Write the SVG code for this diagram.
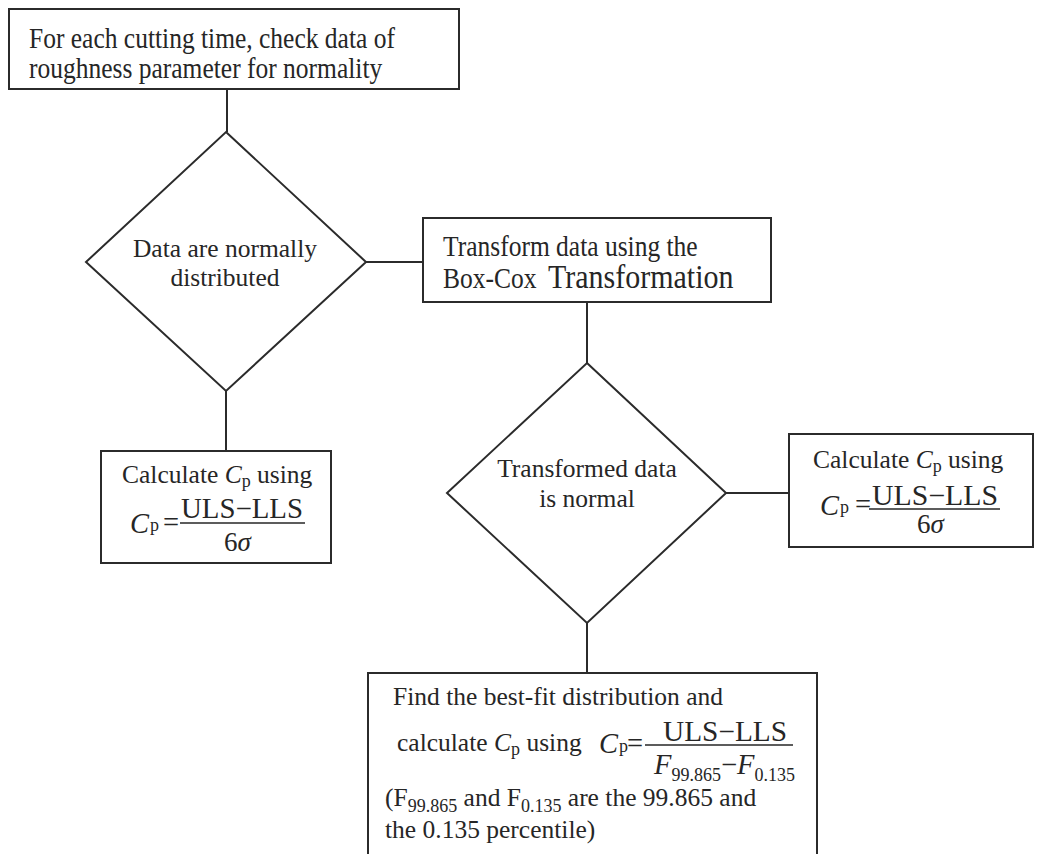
<svg xmlns="http://www.w3.org/2000/svg" width="1039" height="854" viewBox="0 0 1039 854">
<style>
.box{fill:#fff;stroke:#2b2b2b;stroke-width:2}
.dia{fill:#fff;stroke:#2b2b2b;stroke-width:2}
.con{stroke:#2b2b2b;stroke-width:2;fill:none}
.bar{stroke:#262626;stroke-width:1.6}
text{font-family:"Liberation Serif","Times New Roman",serif;fill:#262626}
.t{font-size:25.5px}
.f{font-size:28.5px}
.d{font-size:27px}
.i{font-style:italic}
.s{font-size:18px}
.m{text-anchor:middle}
</style>
<rect width="1039" height="854" fill="#fff"/>
<g id="connectors">
<line class="con" x1="227" y1="89" x2="227" y2="132"/>
<line class="con" x1="366" y1="262" x2="423" y2="262"/>
<line class="con" x1="226" y1="390" x2="226" y2="451"/>
<line class="con" x1="587" y1="302" x2="587" y2="363"/>
<line class="con" x1="726" y1="493" x2="789" y2="493"/>
<line class="con" x1="587" y1="623" x2="587" y2="673"/>
</g>
<g id="start">
<rect class="box" x="9" y="9" width="450" height="80" stroke-width="2.5"/>
<text class="t" transform="translate(29,48) scale(1,1.15)">For each cutting time, check data of</text>
<text class="t" transform="translate(29,78) scale(1,1.15)">roughness parameter for normality</text>
</g>
<g id="decision1">
<polygon class="dia" points="226,132 366,262 226,391 86,262"/>
<text class="t m" x="225" y="257">Data are normally</text>
<text class="t m" x="225" y="286">distributed</text>
</g>
<g id="transform">
<rect class="box" x="423" y="218" width="348" height="84"/>
<text class="t" transform="translate(443,256) scale(1,1.16)">Transform data using the</text>
<text class="t" transform="translate(443,288) scale(1,1.12)">Box-Cox <tspan x="105" font-size="30">Transformation</tspan></text>
</g>
<g id="calc-normal">
<rect class="box" x="101" y="451" width="230" height="112"/>
<text class="t" x="122" y="483">Calculate <tspan class="i">C</tspan><tspan class="s" dy="4">p</tspan><tspan dy="-4"> using</tspan></text>
<text class="f i" x="130" y="533">C</text>
<text class="s" x="150" y="531">p</text>
<text class="f" x="163" y="532">=</text>
<text class="f" x="181" y="518" textLength="122" lengthAdjust="spacingAndGlyphs">ULS−LLS</text>
<line class="bar" x1="180" y1="523" x2="305" y2="523"/>
<text class="d" x="224" y="551">6<tspan class="i">σ</tspan></text>
</g>
<g id="decision2">
<polygon class="dia" points="587,363 726,493 587,623 447,493"/>
<text class="t m" x="587" y="477">Transformed data</text>
<text class="t m" x="587" y="507">is normal</text>
</g>
<g id="calc-transformed">
<rect class="box" x="789" y="434" width="244" height="113"/>
<text class="t" x="813" y="468">Calculate <tspan class="i">C</tspan><tspan class="s" dy="4">p</tspan><tspan dy="-4"> using</tspan></text>
<text class="f i" x="820" y="515">C</text>
<text class="s" x="840" y="513">p</text>
<text class="f" x="855" y="514">=</text>
<text class="f" x="872" y="505" textLength="126" lengthAdjust="spacingAndGlyphs">ULS−LLS</text>
<line class="bar" x1="869" y1="509" x2="1000" y2="509"/>
<text class="d" x="917" y="533">6<tspan class="i">σ</tspan></text>
</g>
<g id="best-fit">
<rect class="box" x="368" y="673" width="449" height="200"/>
<text class="t" x="393" y="705">Find the best-fit distribution and</text>
<text class="t" x="397" y="751">calculate <tspan class="i">C</tspan><tspan class="s" dy="4">p</tspan><tspan dy="-4"> using</tspan></text>
<text class="f i" x="599" y="753">C</text>
<text class="s" x="619" y="752">p</text>
<text class="f" x="627" y="753">=</text>
<text class="f" x="663" y="741" textLength="124" lengthAdjust="spacingAndGlyphs">ULS−LLS</text>
<line class="bar" x1="645" y1="745" x2="793" y2="745"/>
<text class="f" x="654" y="774"><tspan class="i">F</tspan><tspan class="s" dy="7">99.865</tspan><tspan dy="-7">−</tspan><tspan class="i">F</tspan><tspan class="s" dy="7">0.135</tspan></text>
<text class="t" x="385" y="806">(F<tspan class="s" dy="6">99.865</tspan><tspan dy="-6"> and F</tspan><tspan class="s" dy="6">0.135</tspan><tspan dy="-6"> are the 99.865 and</tspan></text>
<text class="t" x="385" y="838">the 0.135 percentile)</text>
</g>
</svg>
